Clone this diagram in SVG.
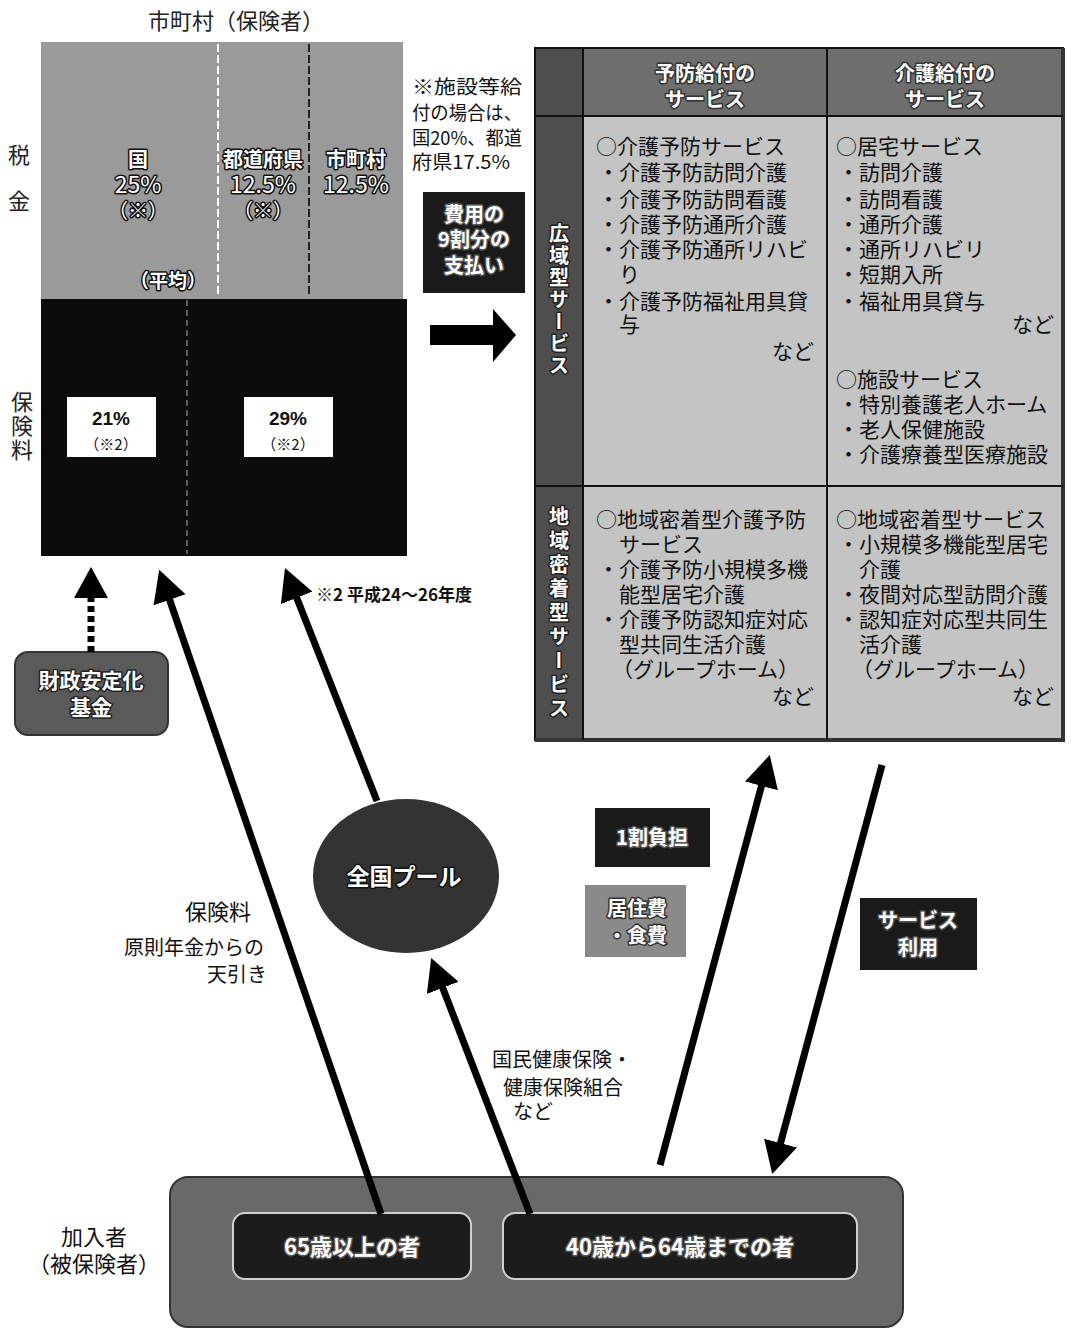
<svg xmlns="http://www.w3.org/2000/svg" width="1073" height="1329" viewBox="0 0 1073 1329">
<style>
text{font-family:"Noto Sans CJK JP","Noto Sans",sans-serif;}
.t{font-size:21px;fill:#111;}
.wt{fill:#fff;stroke:#111;stroke-width:3;paint-order:stroke;stroke-linejoin:round;font-weight:700;}
.c{text-anchor:middle;}
.e{text-anchor:end;}
.arr{stroke:#000;stroke-width:7;fill:none;marker-end:url(#ah);}
.vt{writing-mode:vertical-rl;text-anchor:middle;}
</style>
<defs>
<marker id="ah" viewBox="0 0 32 34" markerWidth="32" markerHeight="34" refX="2" refY="17" orient="auto" markerUnits="userSpaceOnUse">
<path d="M0,0 L32,17 L0,34 z" fill="#000"/>
</marker>
</defs>
<rect width="1073" height="1329" fill="#fff"/>

<g id="insurer">
<text x="236" y="29" class="c" style="font-size:22px;fill:#222">市町村（保険者）</text>
<text x="19" y="163" class="c" style="font-size:22px;fill:#222">税</text>
<text x="19" y="209" class="c" style="font-size:22px;fill:#222">金</text>
<text x="22" y="427" class="vt" style="font-size:22px;letter-spacing:2px;fill:#222">保険料</text>
<rect x="41" y="42" width="362" height="257" fill="#9a9a9a"/>
<line x1="218" y1="44" x2="218" y2="297" stroke="#fff" stroke-width="2" stroke-dasharray="8,3"/>
<line x1="309" y1="44" x2="309" y2="297" stroke="#222" stroke-width="2" stroke-dasharray="8,3"/>
<text x="138" y="167" class="c wt" style="font-size:20px">国</text>
<text x="138" y="193" class="c wt" style="font-size:23px;font-weight:400">25%</text>
<text x="138" y="218" class="c wt" style="font-size:20px;font-weight:400">（※）</text>
<text x="263" y="167" class="c wt" style="font-size:20px">都道府県</text>
<text x="263" y="193" class="c wt" style="font-size:23px;font-weight:400">12.5%</text>
<text x="263" y="218" class="c wt" style="font-size:20px;font-weight:400">（※）</text>
<text x="356" y="167" class="c wt" style="font-size:20px">市町村</text>
<text x="356" y="193" class="c wt" style="font-size:23px;font-weight:400">12.5%</text>
<text x="168" y="288" class="c wt" style="font-size:19px">（平均）</text>
<rect x="41" y="299" width="366" height="257" fill="#0c0c0c"/>
<line x1="187" y1="300" x2="187" y2="554" stroke="#777" stroke-width="1.5" stroke-dasharray="6,4"/>
<rect x="67" y="397" width="89" height="60" fill="#fff"/>
<rect x="244" y="397" width="89" height="60" fill="#fff"/>
<text x="111" y="425" class="c" style="font-family:'Liberation Sans',sans-serif;font-size:19px;font-weight:700;fill:#111">21%</text>
<text x="111" y="450" class="c" style="font-size:15px;fill:#111">（※2）</text>
<text x="288" y="425" class="c" style="font-family:'Liberation Sans',sans-serif;font-size:19px;font-weight:700;fill:#111">29%</text>
<text x="288" y="450" class="c" style="font-size:15px;fill:#111">（※2）</text>
</g>

<g id="note">
<text x="412" y="94" textLength="110" lengthAdjust="spacingAndGlyphs" style="font-size:19px;fill:#111">※施設等給</text>
<text x="412" y="120" textLength="110" lengthAdjust="spacingAndGlyphs" style="font-size:19px;fill:#111">付の場合は、</text>
<text x="412" y="145" textLength="110" lengthAdjust="spacingAndGlyphs" style="font-size:19px;fill:#111">国20%、都道</text>
<text x="412" y="169" textLength="98" lengthAdjust="spacingAndGlyphs" style="font-size:19px;fill:#111">府県17.5%</text>
<text x="316" y="601" style="font-size:17px;font-weight:700;fill:#111">※2 平成24～26年度</text>
</g>

<g id="payment">
<rect x="423" y="192" width="102" height="101" fill="#1a1a1a"/>
<text x="474" y="222" class="c wt" style="font-size:20px;stroke:#555">費用の</text>
<text x="474" y="247" class="c wt" style="font-size:20px;stroke:#555">9割分の</text>
<text x="474" y="273" class="c wt" style="font-size:20px;stroke:#555">支払い</text>
<polygon points="430,325 493,325 493,309 516,335 493,362 493,345 430,345" fill="#000"/>
</g>

<g id="services">
<rect x="535" y="48" width="528" height="692" fill="#c4c4c4"/>
<rect x="535" y="48" width="528" height="68" fill="#6e6e6e"/>
<rect x="535" y="48" width="48" height="692" fill="#4e4e4e"/>
<rect x="535" y="48" width="528" height="692" fill="none" stroke="#111" stroke-width="2"/>
<line x1="1063" y1="48" x2="1063" y2="741" stroke="#333" stroke-width="4"/>
<line x1="535" y1="740" x2="1065" y2="740" stroke="#333" stroke-width="4"/>
<line x1="535" y1="116" x2="1063" y2="116" stroke="#111" stroke-width="2"/>
<line x1="535" y1="486" x2="1063" y2="486" stroke="#111" stroke-width="2"/>
<line x1="583" y1="48" x2="583" y2="740" stroke="#111" stroke-width="2"/>
<line x1="827" y1="48" x2="827" y2="740" stroke="#111" stroke-width="2"/>
<text x="705" y="81" class="c wt" style="font-size:20px;stroke:#333">予防給付の</text>
<text x="705" y="107" class="c wt" style="font-size:20px;stroke:#333">サービス</text>
<text x="945" y="81" class="c wt" style="font-size:20px;stroke:#333">介護給付の</text>
<text x="945" y="107" class="c wt" style="font-size:20px;stroke:#333">サービス</text>
<text x="559" y="300" class="vt wt" style="font-size:20px;letter-spacing:2px;stroke:#222">広域型サービス</text>
<text x="559" y="614" class="vt wt" style="font-size:20px;letter-spacing:4px;stroke:#222">地域密着型サービス</text>

<text x="596" y="154" class="t">○介護予防サービス</text>
<text x="598" y="180" class="t">・介護予防訪問介護</text>
<text x="598" y="207" class="t">・介護予防訪問看護</text>
<text x="598" y="232" class="t">・介護予防通所介護</text>
<text x="598" y="257" class="t">・介護予防通所リハビ</text>
<text x="619" y="282" class="t">り</text>
<text x="598" y="309" class="t">・介護予防福祉用具貸</text>
<text x="619" y="332" class="t">与</text>
<text x="814" y="359" class="t e">など</text>

<text x="836" y="154" class="t">○居宅サービス</text>
<text x="838" y="180" class="t">・訪問介護</text>
<text x="838" y="207" class="t">・訪問看護</text>
<text x="838" y="232" class="t">・通所介護</text>
<text x="838" y="257" class="t">・通所リハビリ</text>
<text x="838" y="282" class="t">・短期入所</text>
<text x="838" y="309" class="t">・福祉用具貸与</text>
<text x="1054" y="332" class="t e">など</text>
<text x="836" y="387" class="t">○施設サービス</text>
<text x="838" y="412" class="t">・特別養護老人ホーム</text>
<text x="838" y="437" class="t">・老人保健施設</text>
<text x="838" y="462" class="t">・介護療養型医療施設</text>

<text x="596" y="527" class="t">○地域密着型介護予防</text>
<text x="619" y="552" class="t">サービス</text>
<text x="598" y="577" class="t">・介護予防小規模多機</text>
<text x="619" y="602" class="t">能型居宅介護</text>
<text x="598" y="627" class="t">・介護予防認知症対応</text>
<text x="619" y="652" class="t">型共同生活介護</text>
<text x="612" y="677" class="t">（グループホーム）</text>
<text x="814" y="704" class="t e">など</text>

<text x="836" y="527" class="t">○地域密着型サービス</text>
<text x="838" y="552" class="t">・小規模多機能型居宅</text>
<text x="859" y="577" class="t">介護</text>
<text x="838" y="602" class="t">・夜間対応型訪問介護</text>
<text x="838" y="627" class="t">・認知症対応型共同生</text>
<text x="859" y="652" class="t">活介護</text>
<text x="852" y="677" class="t">（グループホーム）</text>
<text x="1054" y="704" class="t e">など</text>
</g>

<g id="fund">
<rect x="15" y="652" width="153" height="83" rx="13" fill="#5a5a5a" stroke="#333" stroke-width="2"/>
<text x="91" y="688" class="c wt" style="font-size:21px;stroke:#222">財政安定化</text>
<text x="91" y="715" class="c wt" style="font-size:21px;stroke:#222">基金</text>
</g>

<g id="pool">
<ellipse cx="406" cy="876" rx="93" ry="77" fill="#333"/>
<text x="404" y="885" class="c wt" style="font-size:23px;stroke:#111">全国プール</text>
</g>

<g id="copay">
<rect x="595" y="808" width="115" height="59" fill="#1a1a1a"/>
<text x="652" y="845" class="c wt" style="font-size:20px;stroke:#555">1割負担</text>
</g>
<g id="living">
<rect x="585" y="885" width="101" height="72" fill="#8a8a8a"/>
<text x="637" y="916" class="c wt" style="font-size:20px;stroke:#333">居住費</text>
<text x="637" y="943" class="c wt" style="font-size:20px;stroke:#333">・食費</text>
</g>
<g id="use">
<rect x="860" y="898" width="117" height="72" fill="#1a1a1a"/>
<text x="918" y="928" class="c wt" style="font-size:20px;stroke:#555">サービス</text>
<text x="918" y="955" class="c wt" style="font-size:20px;stroke:#555">利用</text>
</g>

<g id="labels">
<text x="251" y="920" class="e" style="font-size:22px;fill:#111">保険料</text>
<text x="264" y="955" class="e" style="font-size:20px;fill:#111">原則年金からの</text>
<text x="267" y="982" class="e" style="font-size:20px;fill:#111">天引き</text>
<text x="492" y="1067" style="font-size:20px;fill:#111">国民健康保険・</text>
<text x="503" y="1095" style="font-size:20px;fill:#111">健康保険組合</text>
<text x="513" y="1119" style="font-size:20px;fill:#111">など</text>
<text x="94" y="1245" class="c" style="font-size:22px;fill:#111">加入者</text>
<text x="94" y="1272" class="c" style="font-size:22px;fill:#111">（被保険者）</text>
</g>

<g id="members">
<rect x="170" y="1177" width="733" height="150" rx="18" fill="#696969" stroke="#333" stroke-width="2"/>
<g id="over65">
<rect x="233" y="1213" width="238" height="66" rx="12" fill="#1c1c1c" stroke="#cfcfcf" stroke-width="2"/>
<text x="352" y="1255" class="c wt" style="font-size:22px;stroke:#555">65歳以上の者</text>
</g>
<g id="age40to64">
<rect x="503" y="1213" width="354" height="66" rx="12" fill="#1c1c1c" stroke="#cfcfcf" stroke-width="2"/>
<text x="680" y="1255" class="c wt" style="font-size:22px;stroke:#555">40歳から64歳までの者</text>
</g>
</g>

<g id="connectors">
<line x1="91" y1="652" x2="91" y2="598" stroke="#000" stroke-width="7" stroke-dasharray="6,4"/>
<polygon points="91,567 108,598 74,598" fill="#000"/>
<line class="arr" x1="381" y1="1214" x2="169" y2="598"/>
<line class="arr" x1="377" y1="801" x2="296" y2="596"/>
<line class="arr" x1="530" y1="1214" x2="442" y2="986"/>
<line class="arr" x1="660" y1="1165" x2="762" y2="784"/>
<line class="arr" x1="882" y1="765" x2="780" y2="1145"/>
</g>
</svg>
